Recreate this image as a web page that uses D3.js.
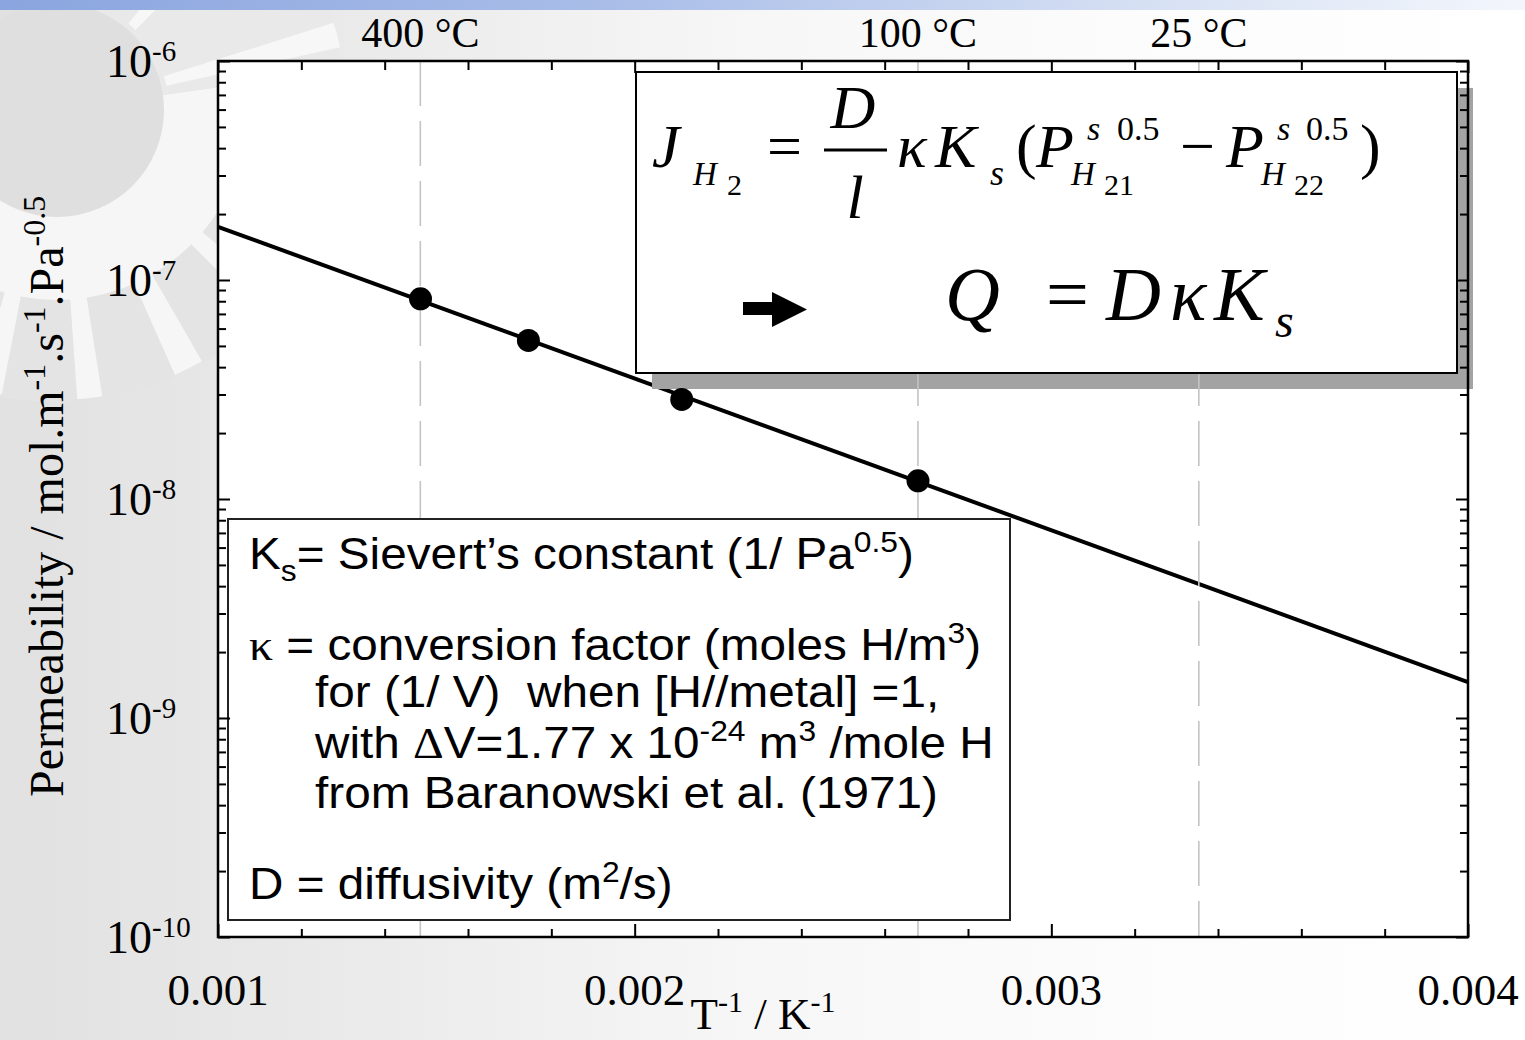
<!DOCTYPE html>
<html>
<head>
<meta charset="utf-8">
<script src="https://cdn.jsdelivr.net/npm/d3@7"></script>
<style>
  html, body { margin: 0; padding: 0; background: #fff; }
  svg { display: block; }
  text { white-space: pre; }
</style>
</head>
<body>
<svg id="chart" width="1525" height="1040"></svg>
<script>
// Measured hydrogen permeability against inverse temperature
const invTemperature = [0.001486, 0.001745, 0.002113, 0.002680]; // 1/T, K^-1
const permeability   = [8.2e-8, 5.3e-8, 2.85e-8, 1.21e-8];         // mol m^-1 s^-1 Pa^-0.5

// Arrhenius fit, end points across the axis range
const fitInvTemperature = [0.001, 0.004];
const fitPermeability   = [1.75e-7, 1.46e-9];

// Reference temperatures marked along the top edge
const refTempC      = [400, 100, 25];
const refTempLabels = ["400 °C", "100 °C", "25 °C"];

// Axis ticks
const xTickValues    = [0.001, 0.002, 0.003, 0.004];
const xTickLabels    = ["0.001", "0.002", "0.003", "0.004"];
const yTickExponents = [-6, -7, -8, -9, -10];

const W = 1525, H = 1040;
const frame = { left: 218, right: 1468, top: 61, bottom: 937 };
const SERIF = "'Liberation Serif', 'Times New Roman', serif";
const SANS  = "'Liberation Sans', Arial, sans-serif";

const svg = d3.select("#chart");
const defs = svg.append("defs");

const x = d3.scaleLinear().domain([0.001, 0.004]).range([frame.left, frame.right]);
const y = d3.scaleLog().domain([1e-10, 1e-6]).range([frame.bottom, frame.top]);

// ---------- slide background ----------
const bgGrad = defs.append("linearGradient").attr("id", "bgGrad")
  .attr("x1", 0).attr("x2", 1).attr("y1", 0).attr("y2", 0);
[[0, "#e1e1e1"], [0.25, "#ebebeb"], [0.5, "#f7f7f7"], [0.75, "#fcfcfc"], [1, "#ffffff"]]
  .forEach(([o, c]) => bgGrad.append("stop").attr("offset", o).attr("stop-color", c));
svg.append("rect").attr("width", W).attr("height", H).attr("fill", "url(#bgGrad)");

// sunburst emblem, top left
const logo = svg.append("g").attr("transform", "translate(57,110)");
const deg = Math.PI / 180;
const arc = d3.arc();
logo.append("path").attr("fill", "#f6f6f6")
  .attr("d", arc({ innerRadius: 100, outerRadius: 290, startAngle: 82 * deg, endAngle: 280 * deg }));
logo.append("path").attr("fill", "#e9e9e9")
  .attr("d", arc({ innerRadius: 100, outerRadius: 290, startAngle: -20 * deg, endAngle: 82 * deg }));
[[-17.5, -12.5], [-50.5, -45.5], [-78, -73]].forEach(([a, b]) => {
  logo.append("path").attr("fill", "#f7f7f7")
    .attr("d", arc({ innerRadius: 112, outerRadius: 290, startAngle: (a + 90) * deg, endAngle: (b + 90) * deg }));
});
[[5, 20], [25, 40], [45, 60], [66, 81], [86, 101], [106, 121], [126, 141], [146, 161], [166, 181]].forEach(([a, b]) => {
  logo.append("path").attr("fill", "#e4e4e4")
    .attr("d", arc({ innerRadius: 190, outerRadius: 292, startAngle: (a + 90) * deg, endAngle: (b + 90) * deg }));
});
logo.append("circle").attr("r", 107).attr("fill", "#dfdfdf");

// blue title bar
const barGrad = defs.append("linearGradient").attr("id", "barGrad")
  .attr("x1", 0).attr("x2", 1).attr("y1", 0).attr("y2", 0);
[[0, "#8aa5df"], [0.4, "#a9bde8"], [0.8, "#dce5f5"], [1, "#f3f6fc"]]
  .forEach(([o, c]) => barGrad.append("stop").attr("offset", o).attr("stop-color", c));
svg.append("rect").attr("width", W).attr("height", 10).attr("fill", "url(#barGrad)");

// ---------- plot area ----------
svg.append("rect")
  .attr("x", frame.left).attr("y", frame.top)
  .attr("width", frame.right - frame.left).attr("height", frame.bottom - frame.top)
  .attr("fill", "#ffffff");

// fitted line
const fitData = fitInvTemperature.map((v, i) => ({ x: v, y: fitPermeability[i] }));
svg.append("path")
  .datum(fitData)
  .attr("fill", "none").attr("stroke", "#000").attr("stroke-width", 4)
  .attr("d", d3.line().x(d => x(d.x)).y(d => y(d.y)));

// equation box shadow
const eqBox = { x0: 636, y0: 72, x1: 1457, y1: 373 };
svg.append("rect")
  .attr("x", eqBox.x0 + 16).attr("y", eqBox.y0 + 16)
  .attr("width", eqBox.x1 - eqBox.x0).attr("height", eqBox.y1 - eqBox.y0)
  .attr("fill", "#a3a3a3");

// reference temperature guides
const refX = refTempC.map(t => x(1 / (t + 273.15)));
svg.append("g").selectAll("line").data(refX).join("line")
  .attr("x1", d => d).attr("x2", d => d)
  .attr("y1", frame.top).attr("y2", frame.bottom)
  .attr("stroke", "#c4c4c4").attr("stroke-width", 1.6)
  .attr("stroke-dasharray", "45 15");

// measured points
svg.append("g").selectAll("circle")
  .data(invTemperature.map((v, i) => ({ x: v, y: permeability[i] })))
  .join("circle")
  .attr("cx", d => x(d.x)).attr("cy", d => y(d.y)).attr("r", 11.5)
  .attr("fill", "#000");

// equation box
svg.append("rect")
  .attr("x", eqBox.x0).attr("y", eqBox.y0)
  .attr("width", eqBox.x1 - eqBox.x0).attr("height", eqBox.y1 - eqBox.y0)
  .attr("fill", "#fff").attr("stroke", "#000").attr("stroke-width", 2);

// definitions box
const defBox = { x0: 228, y0: 519, x1: 1010, y1: 920 };
svg.append("rect")
  .attr("x", defBox.x0).attr("y", defBox.y0)
  .attr("width", defBox.x1 - defBox.x0).attr("height", defBox.y1 - defBox.y0)
  .attr("fill", "#fff").attr("stroke", "#222").attr("stroke-width", 2);

// ---------- axes ----------
const isMajorX = v => Math.abs(v * 1000 - Math.round(v * 1000)) < 1e-6;
const xAll = d3.range(0, 16).map(i => +(0.001 + i * 0.0002).toFixed(5));
const xMinor = xAll.filter(v => !isMajorX(v));
const yMinor = [];
for (let e = -10; e < -6; e++) for (let k = 2; k <= 9; k++) yMinor.push(k * Math.pow(10, e));
const yMajor = yTickExponents.map(e => Math.pow(10, e));

function styleAxis(g) {
  g.select(".domain").remove();
  g.selectAll(".tick line").attr("stroke", "#000").attr("stroke-width", 2);
  g.selectAll(".tick text").remove();
}
const axes = svg.append("g");
axes.append("g").attr("transform", `translate(0,${frame.bottom})`)
  .call(d3.axisBottom(x).tickValues(xTickValues).tickSize(-13)).call(styleAxis);
axes.append("g").attr("transform", `translate(0,${frame.bottom})`)
  .call(d3.axisBottom(x).tickValues(xMinor).tickSize(-8)).call(styleAxis);
axes.append("g").attr("transform", `translate(0,${frame.top})`)
  .call(d3.axisTop(x).tickValues(xTickValues).tickSize(-12)).call(styleAxis);
axes.append("g").attr("transform", `translate(0,${frame.top})`)
  .call(d3.axisTop(x).tickValues(xMinor).tickSize(-9)).call(styleAxis);
axes.append("g").attr("transform", `translate(${frame.left},0)`)
  .call(d3.axisLeft(y).tickValues(yMajor).tickSize(-12)).call(styleAxis);
axes.append("g").attr("transform", `translate(${frame.left},0)`)
  .call(d3.axisLeft(y).tickValues(yMinor).tickSize(-8)).call(styleAxis);
axes.append("g").attr("transform", `translate(${frame.right},0)`)
  .call(d3.axisRight(y).tickValues(yMajor).tickSize(-12)).call(styleAxis);
axes.append("g").attr("transform", `translate(${frame.right},0)`)
  .call(d3.axisRight(y).tickValues(yMinor).tickSize(-8)).call(styleAxis);
axes.append("rect")
  .attr("x", frame.left).attr("y", frame.top)
  .attr("width", frame.right - frame.left).attr("height", frame.bottom - frame.top)
  .attr("fill", "none").attr("stroke", "#000").attr("stroke-width", 2.5);

// tick labels
svg.append("g").selectAll("text").data(xTickValues).join("text")
  .attr("x", d => x(d)).attr("y", 1005)
  .attr("text-anchor", "middle")
  .attr("font-family", SERIF).attr("font-size", 45)
  .text((d, i) => xTickLabels[i]);

const yLab = svg.append("g").selectAll("text").data(yTickExponents).join("text")
  .attr("x", 106).attr("y", d => y(Math.pow(10, d)) + 16)
  .attr("font-family", SERIF).attr("font-size", 46);
yLab.append("tspan").text("10");
yLab.append("tspan").attr("dy", -16).attr("font-size", 29).text(d => String(d));

svg.append("g").selectAll("text").data(refX).join("text")
  .attr("x", d => d).attr("y", 47)
  .attr("text-anchor", "middle")
  .attr("font-family", SERIF).attr("font-size", 42)
  .text((d, i) => refTempLabels[i]);

// axis titles
const xTitle = svg.append("text")
  .attr("x", 763).attr("y", 1029).attr("text-anchor", "middle")
  .attr("font-family", SERIF).attr("font-size", 45);
xTitle.append("tspan").text("T");
xTitle.append("tspan").attr("dy", -17).attr("font-size", 30).text("-1");
xTitle.append("tspan").attr("dy", 17).text(" / K");
xTitle.append("tspan").attr("dy", -17).attr("font-size", 30).text("-1");

const yTitle = svg.append("text")
  .attr("transform", "translate(63,797) rotate(-90)")
  .attr("font-family", SERIF).attr("font-size", 48);
[["Permeability / mol.m", 0], ["-1", 1], [".s", 0], ["-1", 1], [".Pa", 0], ["-0.5", 1]]
  .forEach(([t, sup], i, arr) => {
    const prevSup = i > 0 ? arr[i - 1][1] : 0;
    const dy = sup && !prevSup ? -18 : (!sup && prevSup ? 18 : 0);
    const ts = yTitle.append("tspan").attr("dy", dy).text(t);
    if (sup) ts.attr("font-size", 32);
  });

// ---------- equation ----------
const eq = svg.append("g").attr("font-family", SERIF).attr("fill", "#000");
function put(t, px, py, size, italic) {
  return eq.append("text").attr("x", px).attr("y", py)
    .attr("font-size", size).attr("font-style", italic ? "italic" : "normal").text(t);
}
// first line: flux through the membrane
put("J", 652, 167, 62, true);
put("H", 693, 185, 33, true);
put("2", 727, 195, 30, false);
put("=", 767, 167, 62, false);
put("D", 853, 128, 62, true).attr("text-anchor", "middle");
eq.append("line").attr("x1", 824).attr("x2", 887).attr("y1", 150).attr("y2", 150)
  .attr("stroke", "#000").attr("stroke-width", 3);
put("l", 855, 218, 62, true).attr("text-anchor", "middle");
put("κ", 897, 167, 62, true);
put("K", 935, 167, 62, true);
put("s", 990, 185, 36, true);
put("(", 1016, 167, 62, false);
put("P", 1036, 167, 62, true);
put("s", 1087, 140, 34, true);
put("0.5", 1117, 140, 34, false);
put("H", 1071, 185, 33, true);
put("21", 1104, 195, 30, false);
put("−", 1180, 167, 62, false);
put("P", 1226, 167, 62, true);
put("s", 1277, 140, 34, true);
put("0.5", 1306, 140, 34, false);
put("H", 1261, 185, 33, true);
put("22", 1294, 195, 30, false);
put(")", 1360, 167, 62, false);

// second line: permeability definition
eq.append("path").attr("fill", "#000")
  .attr("d", "M743,302 L772,302 L772,292 L807,309.5 L772,327 L772,315 L743,315 Z");
put("Q", 945, 320, 76, true);
put("=", 1046, 320, 76, false);
put("D", 1106, 320, 76, true);
put("κ", 1170, 320, 76, true);
put("K", 1214, 320, 76, true);
put("s", 1275, 337, 48, true);

// ---------- definitions text ----------
const defs2 = svg.append("g").attr("font-family", SANS).attr("font-size", 45).attr("fill", "#000");
function richLine(px, py, parts) {
  const t = defs2.append("text").attr("transform", `translate(${px},${py}) scale(1.06,1)`);
  let shift = 0;
  parts.forEach(p => {
    const target = p.sub ? 12 : (p.sup ? -17 : 0);
    const ts = t.append("tspan").attr("dy", target - shift).text(p.t);
    shift = target;
    if (p.sub || p.sup) ts.attr("font-size", 30);
    if (p.serif) ts.attr("font-family", SERIF);
  });
  return t;
}
richLine(249, 569, [{ t: "K" }, { t: "s", sub: 1 }, { t: "= Sievert’s constant (1/ Pa" }, { t: "0.5", sup: 1 }, { t: ")" }]);
richLine(249, 660, [{ t: "κ", serif: 1 }, { t: " = conversion factor (moles H/m" }, { t: "3", sup: 1 }, { t: ")" }]);
richLine(315, 707, [{ t: "for (1/ V)  when [H//metal] =1," }]);
richLine(315, 758, [{ t: "with " }, { t: "Δ", serif: 1 }, { t: "V=1.77 x 10" }, { t: "-24", sup: 1 }, { t: " m" }, { t: "3", sup: 1 }, { t: " /mole H" }]);
richLine(315, 808, [{ t: "from Baranowski et al. (1971)" }]);
richLine(249, 899, [{ t: "D = diffusivity (m" }, { t: "2", sup: 1 }, { t: "/s)" }]);
</script>
</body>
</html>
